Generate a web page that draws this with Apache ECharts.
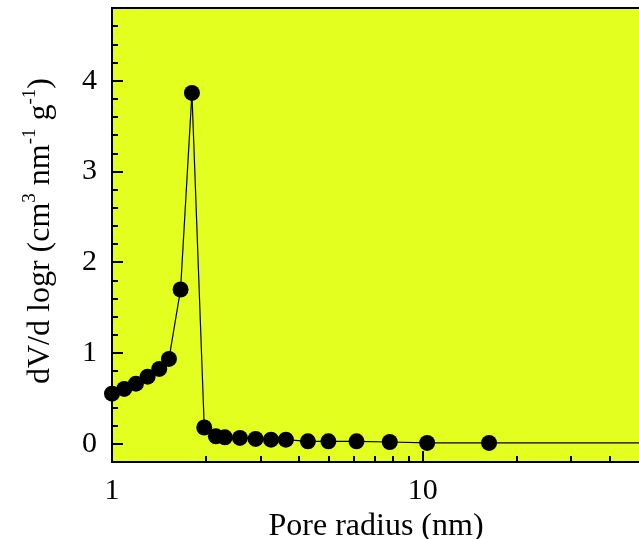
<!DOCTYPE html>
<html>
<head>
<meta charset="utf-8">
<script src="https://cdn.jsdelivr.net/npm/echarts@6/dist/echarts.min.js"></script>
<style>
html,body{margin:0;padding:0;background:#fff;}
#chart{width:639px;height:539px;}
</style>
</head>
<body>
<div id="chart"></div>
<script>
// Pore radius (nm)
const poreRadius = [1.00, 1.095, 1.194, 1.302, 1.419, 1.525, 1.662, 1.808, 1.981, 2.159, 2.308, 2.58, 2.898, 3.248, 3.627, 4.27, 4.97, 6.12, 7.83, 10.33, 16.34, 63];
// dV/d logr (cm3 nm-1 g-1)
const dVdlogr = [0.553, 0.605, 0.663, 0.74, 0.825, 0.935, 1.70, 3.865, 0.18, 0.083, 0.072, 0.065, 0.054, 0.046, 0.046, 0.028, 0.028, 0.028, 0.02, 0.01, 0.01, 0.01];
const xLabelValues = [1, 10];
const xMajorTicks = [10];
const xMinorTicks = [2, 3, 4, 5, 6, 7, 8, 9, 20, 30, 40];
const yLabelValues = [0, 1, 2, 3, 4];
const yMinorTicks = [-0.2, 0.2, 0.4, 0.6, 0.8, 1.2, 1.4, 1.6, 1.8, 2.2, 2.4, 2.6, 2.8, 3.2, 3.4, 3.6, 3.8, 4.2, 4.4, 4.6, 4.8];

const FONT = 'Liberation Serif';
const chart = echarts.init(document.getElementById('chart'), null, {renderer: 'canvas'});
const data = poreRadius.map((x, i) => [x, dVdlogr[i]]);

chart.setOption({
  animation: false,
  backgroundColor: '#ffffff',
  grid: {
    left: 112, top: 8, width: 528, height: 454,
    outerBoundsMode: 'none', containLabel: false,
    show: true, backgroundColor: '#e3ff20', borderColor: '#000', borderWidth: 2
  },
  xAxis: [{
    type: 'log', logBase: 10, min: 1, max: 50, position: 'bottom',
    axisLine: {show: true, onZero: false, lineStyle: {color: '#000', width: 2}},
    axisTick: {show: true, inside: true, length: 11, customValues: xMajorTicks, lineStyle: {color: '#000', width: 2}},
    axisLabel: {show: true, customValues: xLabelValues, margin: 14, fontFamily: FONT, fontSize: 30, color: '#000'},
    splitLine: {show: false}, minorTick: {show: false},
    name: 'Pore radius (nm)', nameLocation: 'middle', nameGap: 46,
    nameTextStyle: {fontFamily: FONT, fontSize: 32, color: '#000'}
  }, {
    type: 'log', logBase: 10, min: 1, max: 50, position: 'bottom', offset: 0,
    axisLine: {show: false, onZero: false},
    axisTick: {show: true, inside: true, length: 6, customValues: xMinorTicks, lineStyle: {color: '#000', width: 2}},
    axisLabel: {show: false}, splitLine: {show: false}
  }],
  yAxis: [{
    type: 'value', min: -0.2, max: 4.8, position: 'left',
    axisLine: {show: true, onZero: false, lineStyle: {color: '#000', width: 2}},
    axisTick: {show: true, inside: true, length: 11, customValues: yLabelValues, lineStyle: {color: '#000', width: 2}},
    axisLabel: {show: true, customValues: yLabelValues, margin: 15, fontFamily: FONT, fontSize: 30, color: '#000'},
    splitLine: {show: false},
    name: '{a|dV/d logr (cm}{s|3}{a| nm}{s|-1}{a| g}{s|-1}{a|)}',
    nameLocation: 'middle', nameRotate: 90, nameGap: 55,
    nameTextStyle: {
      fontFamily: FONT, color: '#000', padding: [0, 0, 0, 8],
      rich: {
        a: {fontFamily: FONT, fontSize: 32, color: '#000', lineHeight: 36, verticalAlign: 'bottom'},
        s: {fontFamily: FONT, fontSize: 19, color: '#000', lineHeight: 36, verticalAlign: 'top', padding: [0, 0, 7, 0]}
      }
    }
  }, {
    type: 'value', min: -0.2, max: 4.8, position: 'left', offset: 0,
    axisLine: {show: false, onZero: false},
    axisTick: {show: true, inside: true, length: 6, customValues: yMinorTicks, lineStyle: {color: '#000', width: 2}},
    axisLabel: {show: false}, splitLine: {show: false}
  }],
  series: [{
    type: 'line', xAxisIndex: 0, yAxisIndex: 0, data: data,
    symbol: 'circle', symbolSize: 16, clip: true,
    lineStyle: {color: '#000', width: 1.2},
    itemStyle: {color: '#000'}
  }]
});
</script>
</body>
</html>
